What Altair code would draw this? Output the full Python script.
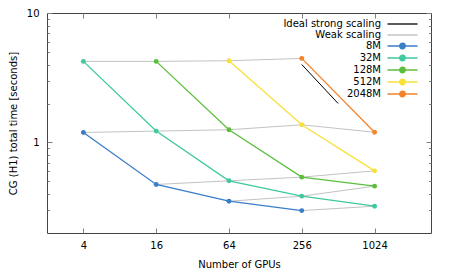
import altair as alt
import pandas as pd

# ---- data ----
gpus = [4, 16, 64, 256, 1024]
sizes = ["8M", "32M", "128M", "512M", "2048M"]
size_mb = [8, 32, 128, 512, 2048]
t_8M = [1.195, 0.474, 0.352, 0.298, None]
t_32M = [4.23, 1.225, 0.506, 0.385, 0.322]
t_128M = [None, 4.23, 1.254, 0.540, 0.460]
t_512M = [None, None, 4.28, 1.37, 0.604]
t_2048M = [None, None, None, 4.46, 1.20]
ideal_gpus = [256, 512]
ideal_time = [4.0, 2.0]

y_major = [1, 10]
y_minor = [0.3, 0.4, 0.5, 0.6, 0.7, 0.8, 0.9, 2, 3, 4, 5, 6, 7, 8, 9]

series_colors = ["#3a7dc9", "#3fc9a0", "#5cbf3c", "#f8e03a", "#f5832a"]
legend_names = ["Ideal strong scaling", "Weak scaling"] + sizes
legend_colors = ["#000000", "#bbbbbb"] + series_colors
# legend samples drawn to the right of the (right-aligned) labels
line_only = "M2.5,0H8.5"
line_dot = "M2.5,0H8.5M6.05,0A0.55,0.55,0,1,1,4.95,0A0.55,0.55,0,1,1,6.05,0Z"
legend_paths = [line_only, line_only] + [line_dot] * 5

# ---- tables ----
rows = []
for name, mb, ts in zip(sizes, size_mb, [t_8M, t_32M, t_128M, t_512M, t_2048M]):
    for g, t in zip(gpus, ts):
        if t is not None:
            rows.append({"size": name, "gpus": g, "time": t, "per_gpu": str(mb / g)})
df = pd.DataFrame(rows)
ideal_df = pd.DataFrame({"gpus": ideal_gpus, "time": ideal_time})

W, H = 384, 220
xscale = alt.Scale(type="log", base=4, domain=[2, 3000], nice=False)
yscale = alt.Scale(type="log", domain=[0.2, 10], nice=False)
TICK = "#808080"


def tick_axis(orient, offset, values, size):
    return alt.Axis(orient=orient, offset=offset, values=values, tickSize=size,
                    labels=False, domain=False, grid=False, title=None,
                    tickColor=TICK, tickWidth=1)


col_scale = alt.Scale(domain=sizes, range=series_colors)

weak = alt.Chart(df).mark_line(color="#bbbbbb", strokeWidth=0.9).encode(
    x=alt.X("gpus:Q", scale=xscale,
            axis=alt.Axis(orient="bottom", values=gpus, ticks=False, domain=False, grid=False,
                          labelPadding=7, labelFlush=False, labelOverlap=False, format="d",
                          title="Number of GPUs", titleY=34, titleBaseline="alphabetic")),
    y=alt.Y("time:Q", scale=yscale,
            axis=alt.Axis(orient="left", values=y_major, ticks=False, domain=False, grid=False,
                          labelPadding=8, format="d", labelOverlap=False,
                          title="CG (H1) total time [seconds]", titleX=-31, titleY=110,
                          titleAngle=270, titleBaseline="alphabetic", titleAlign="center")),
    detail="per_gpu:N",
    order="gpus:Q",
)

ideal = alt.Chart(ideal_df).mark_line(color="black", strokeWidth=1).encode(
    x=alt.X("gpus:Q", scale=xscale, axis=tick_axis("top", -H, gpus, 5)),
    y=alt.Y("time:Q", scale=yscale, axis=tick_axis("right", -W, y_major, 5)),
)

lines = alt.Chart(df).mark_line(strokeWidth=1.3).encode(
    x=alt.X("gpus:Q", scale=xscale, axis=tick_axis("bottom", -H, gpus, 5)),
    y=alt.Y("time:Q", scale=yscale, axis=tick_axis("left", -W, y_major, 5)),
    color=alt.Color("size:N", scale=col_scale, legend=None),
    order="gpus:Q",
)

points = alt.Chart(df).mark_circle(size=24, opacity=1).encode(
    x=alt.X("gpus:Q", scale=xscale, axis=None),
    y=alt.Y("time:Q", scale=yscale, axis=tick_axis("right", -W, y_minor, 2.5)),
    color=alt.Color("size:N", scale=col_scale, legend=None),
)

leg = alt.Legend(title=None, orient="none", legendX=267, legendY=5, labelAlign="right",
                 labelOffset=0, symbolOffset=55, labelFontSize=10, labelFont="DejaVu Sans",
                 labelColor="black", symbolSize=100, symbolStrokeWidth=1.3, symbolOpacity=1,
                 rowPadding=0, padding=0, labelLimit=300)

# legend-only layer: its rows are filtered out, the legend comes from the scale domains
legend_layer = alt.Chart(df).transform_filter("datum.time < 0").mark_point(
    filled=True, size=100, strokeWidth=1.3
).encode(
    x=alt.X("gpus:Q", scale=xscale, axis=None),
    y=alt.Y("time:Q", scale=yscale, axis=tick_axis("left", -W, y_minor, 2.5)),
    fill=alt.Fill("size:N", scale=alt.Scale(domain=legend_names, range=legend_colors), legend=leg),
    stroke=alt.Stroke("size:N", scale=alt.Scale(domain=legend_names, range=legend_colors), legend=leg),
    shape=alt.Shape("size:N", scale=alt.Scale(domain=legend_names, range=legend_paths), legend=leg),
)

chart = alt.layer(weak, ideal, lines, points, legend_layer).resolve_axis(
    x="independent", y="independent"
).properties(
    width=W, height=H,
    autosize=alt.AutoSizeParams(type="none"),
    padding={"left": 39, "top": 5, "right": 11, "bottom": 37},
).configure_view(
    stroke="#444444", strokeWidth=1
).configure_axis(
    labelFont="DejaVu Sans", titleFont="DejaVu Sans", labelFontSize=10, titleFontSize=10,
    labelColor="black", titleColor="black", titleFontWeight="normal"
)

chart.save("out.html", embed_options={"renderer": "svg", "actions": False})
